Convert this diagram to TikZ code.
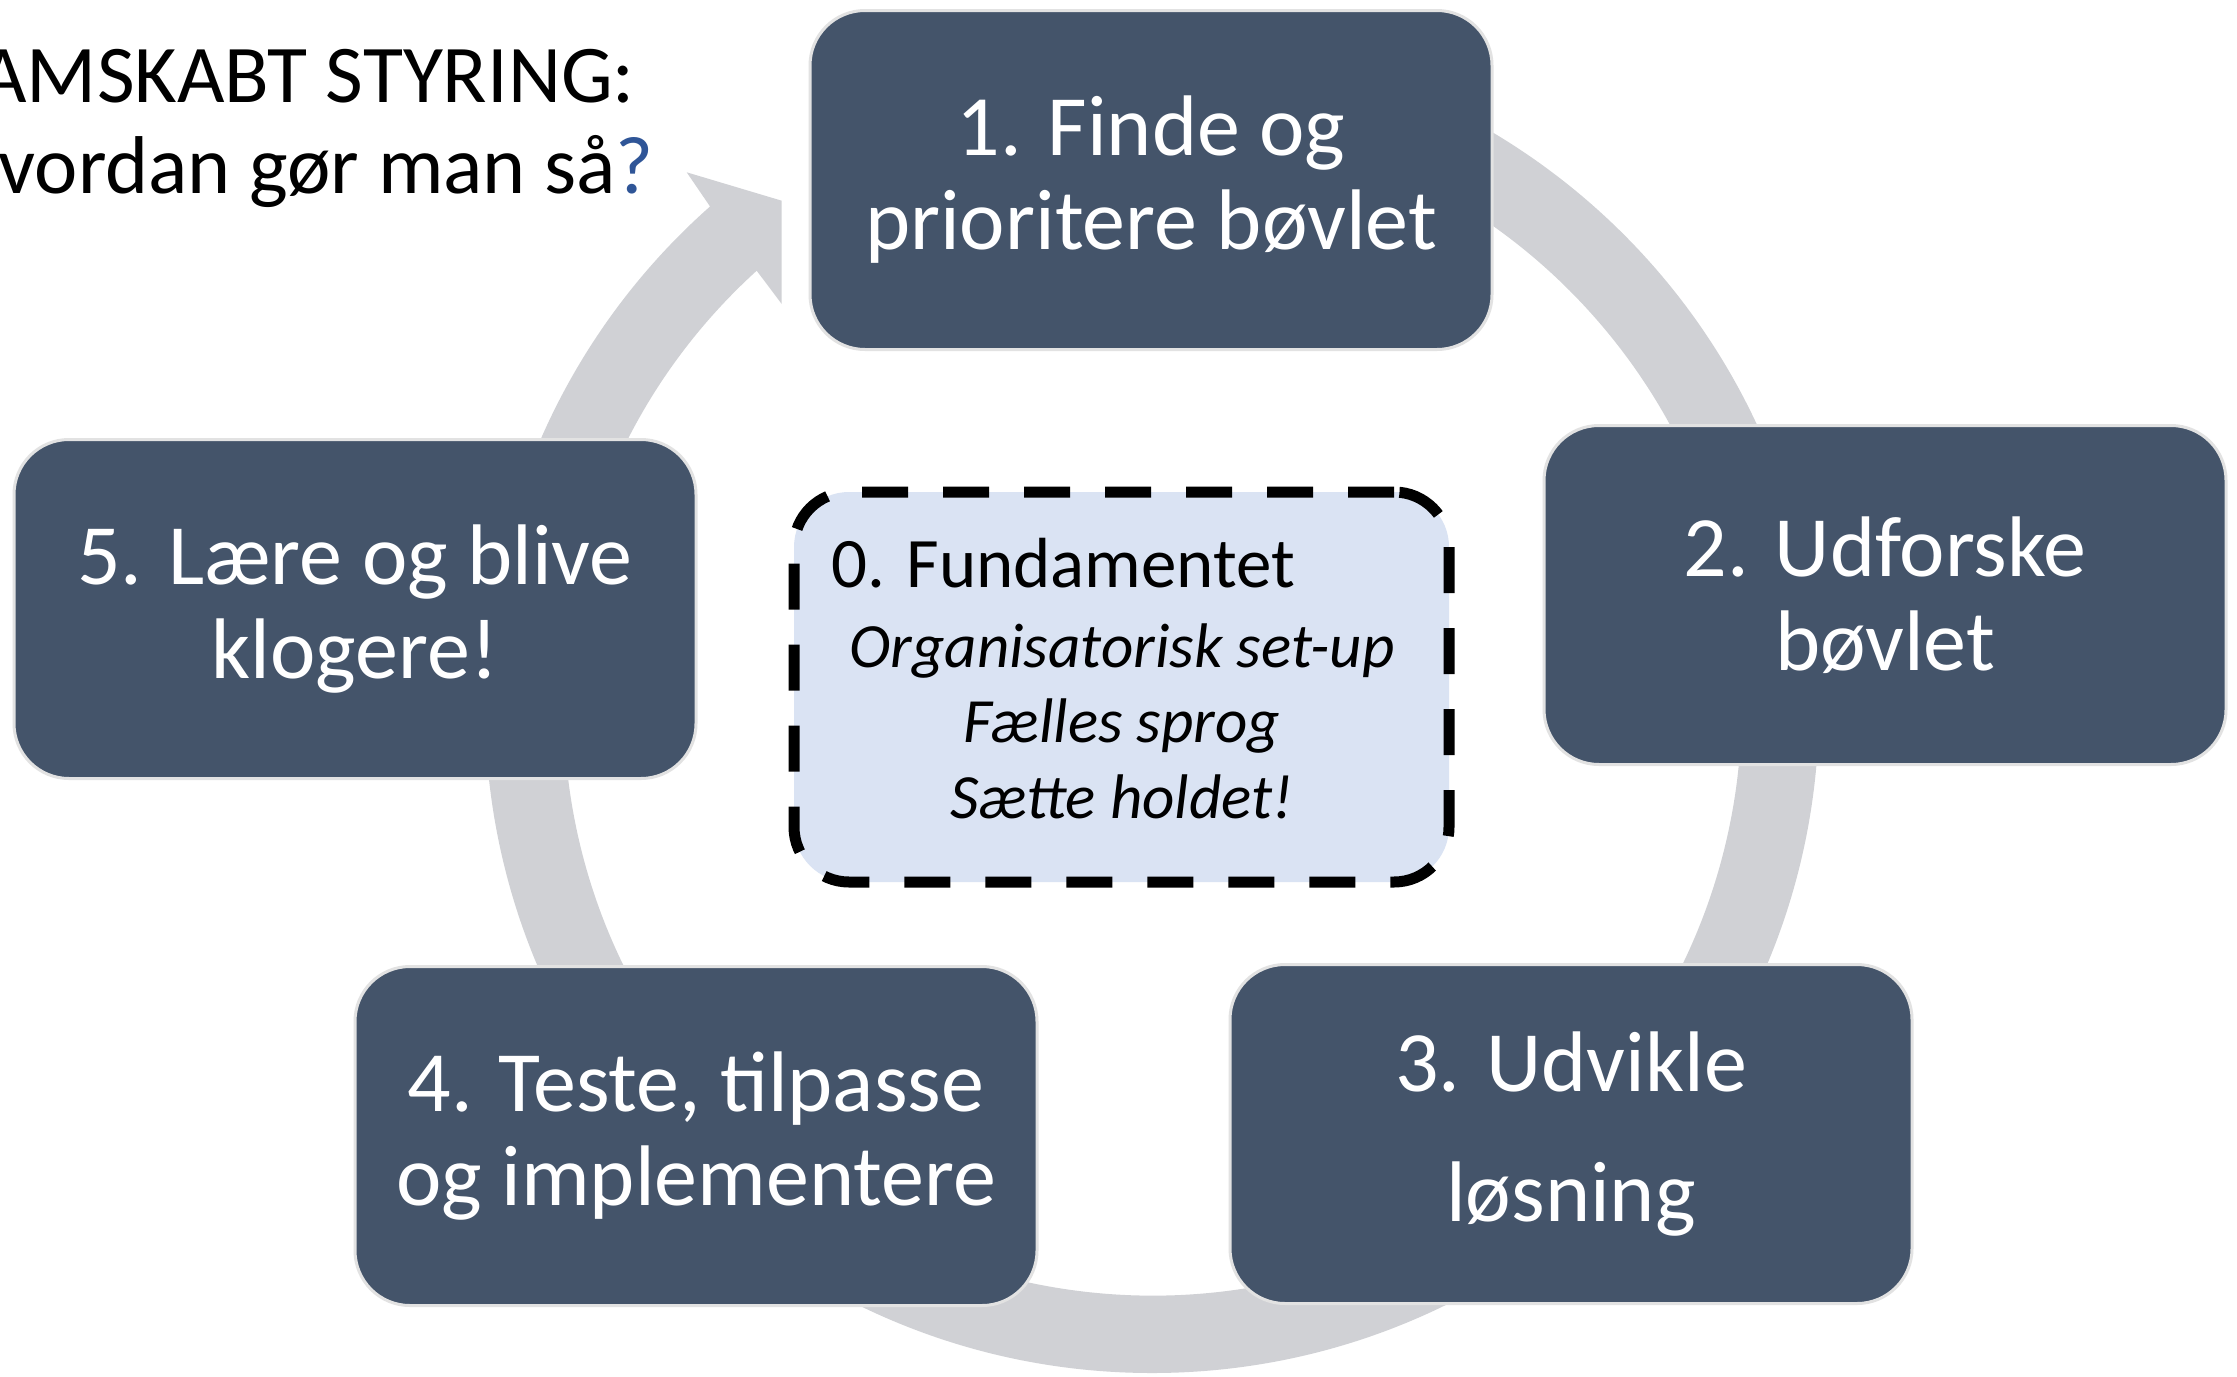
\documentclass[tikz,border=0pt]{standalone}
\usepackage{fontspec}
\setmainfont{Carlito}
\definecolor{boxfill}{HTML}{44546A}
\definecolor{boxline}{HTML}{E2E2E2}
\definecolor{ringgray}{RGB}{208,209,213}
\definecolor{centerfill}{HTML}{DAE3F3}
\definecolor{qblue}{HTML}{2F5597}
\tikzset{
  stepbox/.style={draw=boxline, line width=3pt, fill=boxfill, rounded corners=55pt,
    minimum width=682pt, minimum height=339pt, text=white, align=center,
    font=\fontsize{86}{94}\selectfont, inner sep=0pt},
  basebox/.style={draw=black, line width=11pt, fill=centerfill, rounded corners=55pt,
    dash pattern=on 46pt off 35pt, minimum width=655pt, minimum height=390pt, inner sep=0pt},
  headtext/.style={font=\fontsize{71}{77}\selectfont, inner sep=0pt},
  subtext/.style={font=\fontsize{63}{77}\selectfont\itshape, inner sep=0pt},
  titletext/.style={font=\fontsize{82}{91}\selectfont, inner sep=0pt, text=black},
  ringfill/.style={fill=ringgray}
}
\begin{document}
\begin{tikzpicture}[x=1pt,y=-1pt]
\useasboundingbox (0,0) rectangle (2237,1376);
\fill[white] (0,0) rectangle (2237,1376);
% ring with arrowhead
\coordinate (ctr) at (1152,706);
\coordinate (ah1) at (686.7,172.3);
\coordinate (ah2) at (781.7,200.7);
\coordinate (ah3) at (781.7,304);
\coordinate (ah4) at (756.7,270.7);
\fill[ringfill] ([shift={(270:667)}]ctr) arc[start angle=270, end angle=588.5, radius=667]
  -- (ah1) -- (ah2) -- (ah3) -- (ah4)
  arc[start angle=587.75, end angle=270, radius=589] -- cycle;
% title
\node[titletext, anchor=base east] (h1) at (635,102) {SAMSKABT STYRING:};
\node[titletext, anchor=base east] (h2) at (654,193) {Hvordan gør man så{\color{qblue}?}};
% step boxes
\node[stepbox] (b1) at (1151,180) {1. Finde og\\prioritere bøvlet};
\node[stepbox] (b2) at (1885,595) {2. Udforske\\bøvlet};
\node[stepbox] (b3) at (1571,1134) {3. Udvikle\\[36pt]løsning};
\node[stepbox] (b4) at (696,1136) {4. Teste, tilpasse\\og implementere};
\node[stepbox] (b5) at (355,609) {5. Lære og blive\\klogere!};
% foundation box
\node[basebox] (b0) at (1121.5,687) {};
\node[headtext, anchor=base west] (t0) at (831,587) {0. Fundamentet};
\node[subtext, anchor=base] (t1) at (1122,667) {Organisatorisk set-up};
\node[subtext, anchor=base] (t2) at (1122,742) {Fælles sprog};
\node[subtext, anchor=base] (t3) at (1122,818) {Sætte holdet!};
\end{tikzpicture}
\end{document}
